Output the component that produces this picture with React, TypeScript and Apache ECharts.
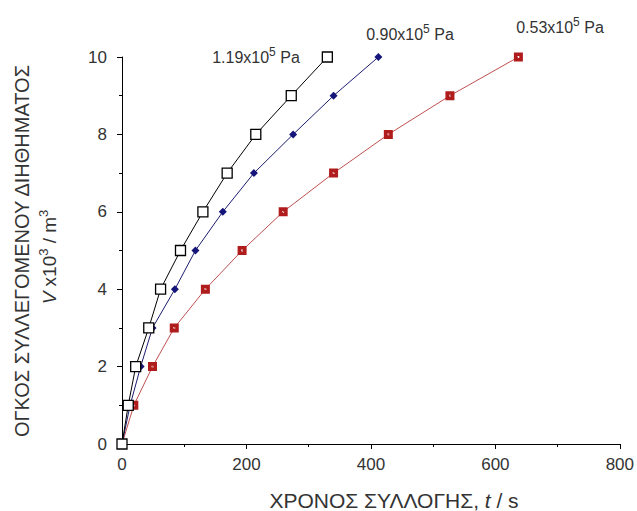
import React, { useEffect, useRef } from "react";
import * as echarts from "echarts";

const volumes = [0, 1, 2, 3, 4, 5, 6, 7, 8, 9, 10];
const t119 = [0, 10, 22, 43, 62, 94, 130, 169, 215, 272, 330];
const t090 = [0, 13, 30, 49, 85, 118, 162, 212, 275, 340, 412];
const t053 = [0, 19, 49, 84, 134, 193, 259, 340, 428, 527, 637];
const pressureLabels = ["1.19", "0.90", "0.53"];
const xTicks = [0, 200, 400, 600, 800];
const yTicks = [0, 2, 4, 6, 8, 10];

const FONT = "Liberation Sans, Arial, sans-serif";
const TXT = "#333";

function pairs(ts: number[]) {
  return ts.map((t, i) => [t, volumes[i]]);
}

function pLabel(p: string, x: number, y: number) {
  return {
    type: "text",
    x,
    y,
    style: {
      text: `{a|${p}x10}{s|5}{a| Pa}`,
      align: "center",
      verticalAlign: "middle",
      rich: {
        a: { fontFamily: FONT, fontSize: 16, fill: TXT },
        s: { fontFamily: FONT, fontSize: 12, fill: TXT, padding: [0, 0, 11, 0] },
      },
    },
  };
}

export default function App() {
  const ref = useRef<HTMLDivElement>(null);
  useEffect(() => {
    const chart = echarts.init(ref.current!, null, { renderer: "svg" });
    chart.setOption({
      animation: false,
      backgroundColor: "#fff",
      grid: { left: 122, right: 11, top: 57, bottom: 67 },
      xAxis: {
        type: "value",
        min: xTicks[0],
        max: xTicks[xTicks.length - 1],
        interval: 200,
        splitLine: { show: false },
        axisLine: { lineStyle: { color: "#000", width: 1 } },
        axisTick: { show: true, length: 5, lineStyle: { color: "#000" } },
        minorTick: { show: true, splitNumber: 2, length: 3, lineStyle: { color: "#000" } },
        axisLabel: { fontFamily: FONT, fontSize: 17, color: TXT, margin: 12 },
      },
      yAxis: {
        type: "value",
        min: yTicks[0],
        max: yTicks[yTicks.length - 1],
        interval: 2,
        splitLine: { show: false },
        axisLine: { show: true, lineStyle: { color: "#000", width: 1 } },
        axisTick: { show: true, length: 5, lineStyle: { color: "#000" } },
        minorTick: { show: true, splitNumber: 2, length: 3, lineStyle: { color: "#000" } },
        axisLabel: { fontFamily: FONT, fontSize: 17, color: TXT, margin: 15 },
      },
      series: [
        {
          type: "line",
          name: pressureLabels[2],
          data: pairs(t053),
          symbol: "path://M0,0L10,0L10,10L0,10ZM4,4L4,6L6,6L6,4Z",
          symbolSize: 9,
          lineStyle: { color: "#c05050", width: 1 },
          itemStyle: { color: "#b01c1c" },
          z: 2,
        },
        {
          type: "line",
          name: pressureLabels[1],
          data: pairs(t090),
          symbol: "diamond",
          symbolSize: 8,
          lineStyle: { color: "#1c1c70", width: 1 },
          itemStyle: { color: "#14147a" },
          z: 3,
        },
        {
          type: "line",
          name: pressureLabels[0],
          data: pairs(t119),
          symbol: "rect",
          symbolSize: 10,
          lineStyle: { color: "#000", width: 1 },
          itemStyle: { color: "#fff", borderColor: "#000", borderWidth: 1.3 },
          z: 4,
        },
      ],
      graphic: [
        pLabel(pressureLabels[0], 256, 57),
        pLabel(pressureLabels[1], 410, 34),
        pLabel(pressureLabels[2], 560, 27),
        {
          type: "text",
          x: 22,
          y: 251,
          rotation: Math.PI / 2,
          style: {
            text: "ΟΓΚΟΣ ΣΥΛΛΕΓΟΜΕΝΟΥ ΔΙΗΘΗΜΑΤΟΣ",
            align: "center",
            verticalAlign: "middle",
            fontFamily: FONT,
            fontSize: 20,
            fill: TXT,
          },
        },
        {
          type: "text",
          x: 49,
          y: 257,
          rotation: Math.PI / 2,
          style: {
            text: "{i|V}{a| x10}{s|3}{a| / m}{s|3}",
            align: "center",
            verticalAlign: "middle",
            rich: {
              i: { fontFamily: FONT, fontSize: 19, fontStyle: "italic", fill: TXT },
              a: { fontFamily: FONT, fontSize: 19, fill: TXT },
              s: { fontFamily: FONT, fontSize: 13, fill: TXT, padding: [0, 0, 11, 0] },
            },
          },
        },
        {
          type: "text",
          x: 394,
          y: 500,
          style: {
            text: "{a|ΧΡΟΝΟΣ ΣΥΛΛΟΓΗΣ, }{i|t}{a| / s}",
            align: "center",
            verticalAlign: "middle",
            rich: {
              a: { fontFamily: FONT, fontSize: 21, fill: TXT },
              i: { fontFamily: FONT, fontSize: 21, fontStyle: "italic", fill: TXT },
            },
          },
        },
      ],
    });
    return () => chart.dispose();
  }, []);
  return (
    <div
      ref={ref}
      style={{ position: "absolute", left: 0, top: 0, width: 637, height: 511 }}
    />
  );
}
